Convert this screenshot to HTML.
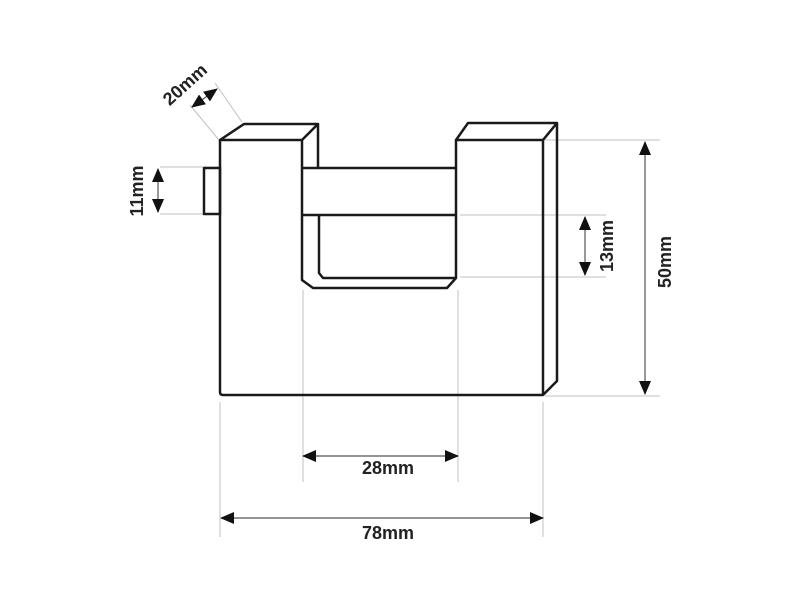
<!DOCTYPE html>
<html><head><style>html,body{margin:0;padding:0;background:#fff;}svg{display:block}</style></head>
<body>
<svg width="800" height="600" viewBox="0 0 800 600" xmlns="http://www.w3.org/2000/svg">
<defs>
<marker id="a" viewBox="0 0 14 12" refX="13" refY="6" markerWidth="14" markerHeight="12" markerUnits="userSpaceOnUse" orient="auto-start-reverse"><path d="M0,0 L14,6 L0,12 Z" fill="#111"/></marker>
</defs>
<g stroke="#c0c0c0" stroke-width="1" fill="none">
<line x1="160" y1="167" x2="220" y2="167"/><line x1="160" y1="214" x2="220" y2="214"/>
<line x1="190" y1="105" x2="219" y2="140"/><line x1="215" y1="83" x2="242" y2="122"/>
<line x1="460" y1="215" x2="606" y2="215"/><line x1="460" y1="277" x2="606" y2="277"/>
<line x1="545" y1="140" x2="660" y2="140"/><line x1="545" y1="396" x2="660" y2="396"/>
<line x1="303" y1="290" x2="303" y2="482"/><line x1="458" y1="290" x2="458" y2="482"/>
<line x1="220" y1="402" x2="220" y2="537"/><line x1="543" y1="402" x2="543" y2="537"/>
</g>
<g stroke="#1a1a1a" stroke-width="2.5" fill="none" stroke-linejoin="round">
<rect x="204" y="168" width="16" height="46"/>
<path d="M220,140 L244,124 L318,124 L302,140 Z"/>
<path d="M318,124 L318,168"/>
<path d="M220,140 L220,392 Q220,395 223,395 L543,395 L557,381 L557,123 L468,123 L456,140 L543,140 L557,123"/>
<path d="M543,140 L543,395"/>
<path d="M302,140 L302,280 L313,288 L447,288 L456,278 L456,140"/>
<path d="M302,168 L456,168 M302,215 L456,215"/>
<path d="M319,215 L319,273 L323,278 L456,278"/>
</g>
<g stroke="#555" stroke-width="1.2" fill="none">
<line x1="158" y1="169" x2="158" y2="212" marker-start="url(#a)" marker-end="url(#a)"/>
<line x1="192" y1="107" x2="217" y2="89" marker-start="url(#a)" marker-end="url(#a)"/>
<line x1="585" y1="217" x2="585" y2="275" marker-start="url(#a)" marker-end="url(#a)"/>
<line x1="645" y1="142" x2="645" y2="394" marker-start="url(#a)" marker-end="url(#a)"/>
<line x1="303" y1="456" x2="458" y2="456" marker-start="url(#a)" marker-end="url(#a)"/>
<line x1="221" y1="518" x2="543" y2="518" marker-start="url(#a)" marker-end="url(#a)"/>
</g>
<g font-family="Liberation Sans, sans-serif" font-weight="bold" font-size="18" fill="#222" text-anchor="middle">
<text x="388" y="474">28mm</text>
<text x="388" y="539">78mm</text>
<text transform="translate(143,191) rotate(-90)">11mm</text>
<text transform="translate(613,246) rotate(-90)">13mm</text>
<text transform="translate(671,262) rotate(-90)">50mm</text>
<text transform="translate(189,89) rotate(-42)">20mm</text>
</g>
</svg>
</body></html>
